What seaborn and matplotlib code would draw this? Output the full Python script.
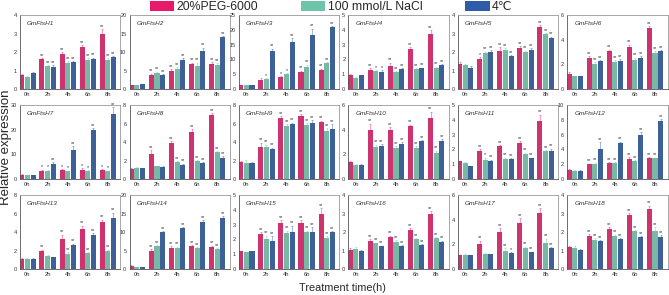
import numpy as np
import pandas as pd
import matplotlib
matplotlib.use('Agg')
import matplotlib.pyplot as plt
from matplotlib.patches import Patch
import seaborn as sns

# ============================================================
# Data
# ============================================================
times = ['0h', '2h', '4h', '6h', '8h']
treatments = ['20%PEG-6000', '100 mmol/L NaCl', '4\u2103']
colors = ['#E8196A', '#6CC4AA', '#2E5CA8']

genes = ['GmFtsH%d' % i for i in range(1, 19)]

ymax = [4, 20, 25, 5, 4, 6,
        30, 8, 8, 6, 5, 10,
        8, 20, 5, 4, 6, 4]
ystep = [1, 5, 5, 1, 1, 2,
         10, 2, 2, 2, 1, 2,
         2, 5, 1, 1, 2, 1]

peg = [
    [0.75, 1.6, 1.9, 2.28, 2.95],
    [1.1, 3.9, 5.0, 6.9, 6.9],
    [1.4, 3.1, 4.1, 5.9, 6.6],
    [0.97, 1.3, 1.58, 2.72, 3.7],
    [1.38, 1.62, 2.08, 2.22, 3.35],
    [1.2, 2.5, 3.05, 3.4, 4.95],
    [1.7, 3.3, 3.6, 3.8, 3.6],
    [1.1, 2.7, 3.9, 5.1, 6.95],
    [1.85, 3.45, 6.6, 6.8, 6.2],
    [1.4, 4.0, 4.0, 4.3, 4.95],
    [1.2, 1.9, 2.25, 2.45, 3.95],
    [1.25, 2.0, 2.2, 2.75, 2.8],
    [1.05, 2.0, 3.2, 4.3, 5.05],
    [0.8, 4.8, 5.8, 6.2, 6.0],
    [1.2, 2.38, 3.1, 3.08, 3.72],
    [1.05, 1.52, 1.75, 2.1, 3.0],
    [1.1, 2.0, 3.0, 3.7, 4.55],
    [1.18, 1.8, 2.15, 2.92, 3.22],
]
nacl = [
    [0.65, 1.25, 1.4, 1.57, 1.58],
    [1.1, 4.4, 5.3, 6.3, 6.6],
    [1.3, 3.4, 5.1, 7.5, 8.9],
    [0.78, 1.22, 1.15, 1.38, 1.42],
    [1.28, 1.97, 2.1, 2.0, 2.97],
    [1.05, 2.05, 2.22, 2.35, 2.9],
    [1.5, 3.3, 3.1, 3.2, 3.1],
    [1.15, 1.4, 1.8, 1.95, 2.9],
    [1.75, 3.5, 5.7, 5.85, 5.2],
    [1.1, 2.6, 2.5, 2.55, 2.1],
    [1.08, 1.3, 1.35, 1.68, 1.88],
    [1.1, 2.1, 2.15, 2.45, 2.8],
    [1.1, 1.42, 1.6, 1.7, 1.9],
    [0.55, 6.1, 5.8, 5.7, 5.3],
    [1.12, 2.05, 2.4, 2.5, 2.12],
    [1.08, 1.38, 1.48, 1.6, 1.68],
    [1.15, 1.22, 1.5, 1.72, 2.15],
    [1.15, 1.58, 1.8, 2.05, 2.08],
]
cold = [
    [0.85, 1.22, 1.45, 1.6, 1.72],
    [1.3, 3.9, 7.9, 10.4, 14.0],
    [1.3, 13.0, 15.9, 18.4, 20.8],
    [0.95, 1.18, 1.37, 1.4, 1.6],
    [1.15, 2.0, 1.78, 2.1, 2.78],
    [1.05, 2.25, 2.3, 2.55, 3.05],
    [1.5, 6.0, 11.8, 20.0, 26.5],
    [1.15, 1.32, 1.57, 1.72, 2.3],
    [1.72, 3.3, 5.9, 6.05, 5.45],
    [1.15, 2.7, 2.85, 3.05, 3.05],
    [0.88, 1.2, 1.38, 1.4, 1.9],
    [1.1, 4.1, 4.85, 6.0, 7.8],
    [1.1, 1.3, 2.55, 3.7, 5.5],
    [0.45, 9.9, 11.0, 12.8, 13.8],
    [1.2, 1.92, 2.52, 2.52, 2.48],
    [1.0, 1.22, 1.25, 1.3, 1.48],
    [1.12, 1.18, 1.3, 1.35, 1.68],
    [1.02, 1.5, 1.6, 1.72, 1.75],
]

peg_err = [
    [0.08, 0.06, 0.1, 0.1, 0.3],
    [0.1, 0.3, 0.3, 0.2, 0.4],
    [0.1, 0.8, 0.3, 0.3, 0.3],
    [0.05, 0.1, 0.2, 0.1, 0.3],
    [0.08, 0.1, 0.2, 0.1, 0.1],
    [0.15, 0.15, 0.15, 0.2, 0.15],
    [0.2, 0.5, 0.5, 0.5, 0.5],
    [0.1, 0.4, 0.2, 0.3, 0.2],
    [0.1, 0.5, 0.2, 0.2, 0.1],
    [0.1, 0.5, 0.2, 0.1, 0.5],
    [0.05, 0.1, 0.05, 0.1, 0.4],
    [0.1, 0.1, 0.1, 0.2, 0.2],
    [0.1, 0.1, 0.5, 0.4, 0.3],
    [0.2, 0.5, 0.3, 0.2, 0.3],
    [0.05, 0.1, 0.2, 0.2, 0.4],
    [0.08, 0.1, 0.05, 0.1, 0.12],
    [0.05, 0.3, 0.3, 0.4, 0.4],
    [0.05, 0.1, 0.1, 0.1, 0.2],
]
nacl_err = [
    [0.08, 0.05, 0.1, 0.1, 0.08],
    [0.1, 0.3, 0.6, 0.8, 0.4],
    [0.1, 0.3, 0.3, 0.8, 0.3],
    [0.05, 0.08, 0.05, 0.05, 0.1],
    [0.05, 0.05, 0.1, 0.08, 0.05],
    [0.05, 0.15, 0.15, 0.2, 0.15],
    [0.1, 0.5, 0.3, 0.3, 0.3],
    [0.1, 0.05, 0.1, 0.1, 0.1],
    [0.3, 0.2, 0.2, 0.2, 0.3],
    [0.1, 0.2, 0.15, 0.1, 0.2],
    [0.05, 0.15, 0.1, 0.1, 0.05],
    [0.1, 0.1, 0.1, 0.1, 0.1],
    [0.1, 0.05, 0.2, 0.1, 0.2],
    [0.05, 0.3, 0.2, 0.2, 0.3],
    [0.05, 0.2, 0.2, 0.1, 0.1],
    [0.1, 0.05, 0.08, 0.05, 0.06],
    [0.05, 0.05, 0.2, 0.1, 0.3],
    [0.1, 0.08, 0.05, 0.05, 0.2],
]
cold_err = [
    [0.08, 0.06, 0.05, 0.1, 0.06],
    [0.1, 0.2, 0.4, 0.8, 0.3],
    [0.1, 0.6, 1.2, 2.0, 0.5],
    [0.03, 0.1, 0.05, 0.05, 0.08],
    [0.08, 0.1, 0.06, 0.1, 0.05],
    [0.05, 0.1, 0.1, 0.1, 0.1],
    [0.1, 0.8, 1.5, 0.5, 2.5],
    [0.05, 0.05, 0.1, 0.1, 0.15],
    [0.1, 0.1, 0.2, 0.3, 0.5],
    [0.05, 0.15, 0.15, 0.1, 0.2],
    [0.03, 0.1, 0.05, 0.05, 0.15],
    [0.1, 0.9, 0.2, 0.3, 0.3],
    [0.05, 0.05, 0.2, 0.2, 0.6],
    [0.1, 0.3, 0.3, 0.4, 0.5],
    [0.05, 0.3, 0.4, 0.3, 0.1],
    [0.02, 0.05, 0.05, 0.05, 0.05],
    [0.05, 0.05, 0.05, 0.05, 0.1],
    [0.05, 0.05, 0.05, 0.05, 0.08],
]

# significance codes: PEG / NaCl / cold, 0 = none, 1 = *, 2 = **
sig = [
    '02222 02222 02222', '02222 02222 02222', '00122 01122 02222',
    '02222 01222 01222', '01222 02222 02222', '02222 02222 02222',
    '01111 01111 02222', '02222 00222 00222', '02222 02222 02222',
    '02222 02222 02222', '02222 01222 02222', '02222 02222 02222',
    '02222 00222 00222', '02222 02222 02222', '02222 02222 02222',
    '02222 02222 02222', '02222 00222 00122', '02222 02222 02222',
]
sig_marks = {'0': '', '1': '*', '2': '**'}

# ============================================================
# Style
# ============================================================
sns.set_style('white')
plt.rcParams['font.family'] = ['Liberation Sans', 'DejaVu Sans']
plt.rcParams['axes.linewidth'] = 0.6

fig, axes = plt.subplots(3, 6, figsize=(6.69, 2.95), dpi=100)
fig.subplots_adjust(left=0.030, right=0.998, top=0.949, bottom=0.088,
                    wspace=0.09, hspace=0.215)

# ============================================================
# Panels
# ============================================================
for g, ax in enumerate(axes.flat):
    df = pd.DataFrame({
        'time': times * 3,
        'treatment': np.repeat(treatments, 5),
        'value': peg[g] + nacl[g] + cold[g],
    })
    errs = [peg_err[g], nacl_err[g], cold_err[g]]
    marks = sig[g].split()

    sns.barplot(data=df, x='time', y='value', hue='treatment',
                hue_order=treatments, palette=colors, width=0.84, gap=0.1,
                errorbar=None, legend=False, linewidth=0, ax=ax)

    bar_groups = list(ax.containers)[:3]
    for s, cont in enumerate(bar_groups):
        for j, bar in enumerate(cont.patches):
            xc = bar.get_x() + bar.get_width() / 2
            h = bar.get_height()
            e = errs[s][j]
            ax.errorbar(xc, h, yerr=[[0], [e]], fmt='none', ecolor=colors[s],
                        elinewidth=0.5, capsize=0.9, capthick=0.5, alpha=0.6)
            m = sig_marks[marks[s][j]]
            if m:
                ax.text(xc, h + e + ymax[g] * 0.004, m, ha='center', va='bottom',
                        fontsize=3.9, color='#333333')

    ax.set_xlim(-0.37, 4.63)
    ax.set_ylim(0, ymax[g])
    ax.set_yticks(np.arange(0, ymax[g] + 0.01, ystep[g]))
    ax.set_xlabel('')
    ax.set_ylabel('')
    ax.tick_params(axis='both', labelsize=4, length=1.5, width=0.4, pad=0.8,
                   colors='#333333')
    ax.tick_params(axis='x', labelsize=4.2)
    ax.text(0.07, 0.86, genes[g], transform=ax.transAxes, fontsize=4.6,
            style='italic', color='#333333')
    for side in ['left', 'bottom']:
        ax.spines[side].set_color('#555555')
    for side in ['top', 'right']:
        ax.spines[side].set_color('#999999')

# ============================================================
# Legend & shared labels
# ============================================================
handles = [Patch(facecolor=c, edgecolor='none') for c in colors]
fig.legend(handles, treatments, loc='center', bbox_to_anchor=(0.495, 0.975),
           ncol=3, frameon=False, fontsize=8.8, handlelength=2.0,
           handleheight=0.8, handletextpad=0.2, columnspacing=3.5,
           borderpad=0, borderaxespad=0)
fig.text(0.512, 0.024, 'Treatment time(h)', ha='center', va='center', fontsize=7.8)
fig.text(0.009, 0.5, 'Relative expression', ha='center', va='center',
         rotation=90, fontsize=9.5)

plt.savefig('out.png', dpi=100)
plt.close()
